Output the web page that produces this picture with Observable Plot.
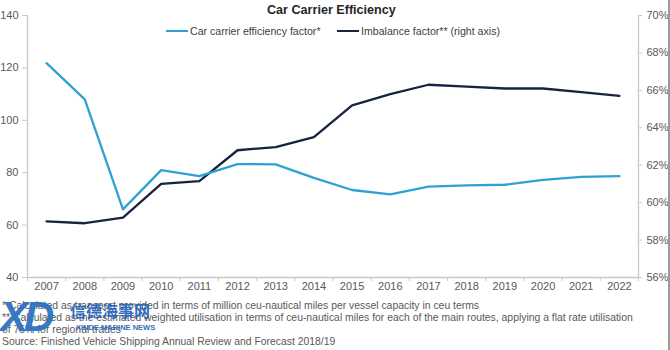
<!DOCTYPE html>
<html><head><meta charset="utf-8">
<script src="https://cdn.jsdelivr.net/npm/d3@7"></script>
<script src="https://cdn.jsdelivr.net/npm/@observablehq/plot@0.6"></script>
<style>
body{margin:0;background:#fff;}
#wrap{position:relative;width:670px;height:350px;font-family:"Liberation Sans",Arial,sans-serif;overflow:hidden;background:#fff;}
#chart{position:absolute;left:0;top:0;}
#title{position:absolute;top:3px;left:267px;font-weight:bold;font-size:12.6px;color:#262626;white-space:nowrap;}
.leg{position:absolute;top:25px;font-size:10.6px;color:#404040;white-space:nowrap;display:flex;align-items:center;}
.sw{display:inline-block;width:22px;height:2px;margin-right:2px;}
#notes{position:absolute;left:2px;top:300px;font-size:10.4px;line-height:12px;color:#595959;white-space:nowrap;}
#wm{position:absolute;left:0;top:293px;opacity:0.92;}
#wm .xd{position:absolute;left:0px;top:0px;font:italic bold 42px "Liberation Sans",Arial,sans-serif;color:#2a6fc0;letter-spacing:-4px;}
#wm .cn{position:absolute;left:70px;top:5px;font:bold 16px "Noto Sans CJK SC",sans-serif;color:#2263b8;white-space:nowrap;}
#wm .en{position:absolute;left:76px;top:30px;font:bold 7.5px "Liberation Sans",Arial,sans-serif;color:#2263b8;white-space:nowrap;}
#edge{position:absolute;left:668px;top:0;width:2px;height:350px;background:#9a9a9a;}
</style>
</head>
<body>
<div id="wrap">
  <div id="chart"></div>
  <div id="title">Car Carrier Efficiency</div>
  <div class="leg" style="left:166px"><span class="sw" style="background:#2ea3d3"></span>Car carrier efficiency factor*</div>
  <div class="leg" style="left:337px"><span class="sw" style="background:#17233f"></span>Imbalance factor** (right axis)</div>
  <div id="notes">
    <div>* Calculated as transport provided in terms of million ceu-nautical miles per vessel capacity in ceu terms</div>
    <div>** Calculated as the estimated weighted utilisation in terms of ceu-nautical miles for each of the main routes, applying a flat rate utilisation</div>
    <div>of 75% for regional trades</div>
    <div>Source: Finished Vehicle Shipping Annual Review and Forecast 2018/19</div>
  </div>
  <div id="wm"><div class="xd">XD</div><div class="cn">信德海事网</div><div class="en">XINDE MARINE NEWS</div></div>
  <div id="edge"></div>
</div>
<script>
const years = [2007,2008,2009,2010,2011,2012,2013,2014,2015,2016,2017,2018,2019,2020,2021,2022];
const efficiency = [121.8,108,66,81,78.7,83.3,83.2,78,73.4,71.7,74.7,75.2,75.4,77.3,78.4,78.7];
const imbalance = [59.0,58.9,59.2,61.0,61.15,62.8,62.97,63.5,65.2,65.8,66.3,66.2,66.1,66.1,65.9,65.7];
const leftTicks = [40,60,80,100,120,140];
const rightTicks = [56,58,60,62,64,66,68,70];

const leftDomain = [leftTicks[0], leftTicks[leftTicks.length-1]];
const rightDomain = [rightTicks[0], rightTicks[rightTicks.length-1]];
const toLeft = p => leftDomain[0] + (p - rightDomain[0]) * (leftDomain[1]-leftDomain[0]) / (rightDomain[1]-rightDomain[0]);
const toRight = v => rightDomain[0] + (v - leftDomain[0]) * (rightDomain[1]-rightDomain[0]) / (leftDomain[1]-leftDomain[0]);
const xDomain = [years[0]-0.5, years[years.length-1]+0.5];
const boundaries = years.map(y => y - 0.5).concat([xDomain[1]]);
const data = years.map((year,i) => ({year, eff: efficiency[i], imb: imbalance[i]}));
const axisColor = "#c8c8c8";

const chart = Plot.plot({
  width: 670, height: 295,
  marginLeft: 27, marginRight: 32, marginTop: 15, marginBottom: 18,
  x: {type: "linear", domain: xDomain},
  y: {domain: leftDomain},
  style: {fontFamily: "'Liberation Sans', Arial, sans-serif", fontSize: "11px", color: "#595959", background: "transparent"},
  marks: [
    Plot.ruleX([xDomain[0]], {stroke: axisColor, strokeWidth: 1.3}),
    Plot.ruleX([xDomain[1]], {stroke: axisColor, strokeWidth: 1.3}),
    Plot.ruleY([leftDomain[0]], {stroke: axisColor, strokeWidth: 1.3}),
    Plot.axisY(leftTicks, {anchor: "left", tickSize: 5, tickPadding: 4, stroke: axisColor, fill: "#595959", label: null}),
    Plot.axisY(rightTicks.map(toLeft), {anchor: "right", tickSize: 3, tickPadding: 5, stroke: axisColor, fill: "#595959", label: null,
      tickFormat: d => `${Math.round(toRight(d))}%`}),
    Plot.axisX(boundaries, {anchor: "bottom", tickSize: 4, stroke: axisColor, fill: "none", label: null}),
    Plot.axisX(years, {anchor: "bottom", tickSize: 0, tickPadding: 5, fill: "#595959", label: null, tickFormat: d => String(d)}),
    Plot.line(data, {x: "year", y: d => toLeft(d.imb), stroke: "#17233f", strokeWidth: 2.3}),
    Plot.line(data, {x: "year", y: "eff", stroke: "#2ea3d3", strokeWidth: 2.3})
  ]
});
document.getElementById("chart").appendChild(chart);
</script>
</body></html>
